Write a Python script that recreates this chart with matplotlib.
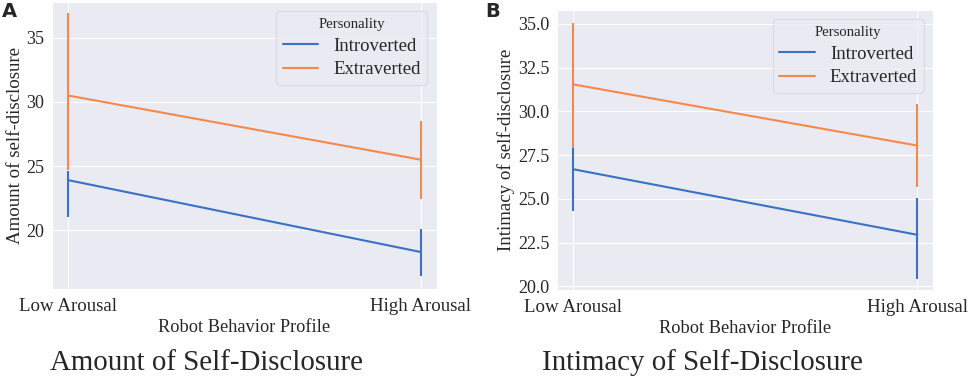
import matplotlib
matplotlib.use("Agg")
import matplotlib.pyplot as plt
import seaborn as sns

# data
profiles = ["Low Arousal", "High Arousal"]
groups = ["Introverted", "Extraverted"]

amount_mean = {"Introverted": [23.9, 18.3], "Extraverted": [30.5, 25.5]}
amount_low = {"Introverted": [21.0, 16.4], "Extraverted": [24.7, 22.4]}
amount_high = {"Introverted": [24.6, 20.1], "Extraverted": [36.9, 28.5]}

intimacy_mean = {"Introverted": [26.7, 22.95], "Extraverted": [31.55, 28.05]}
intimacy_low = {"Introverted": [24.3, 20.4], "Extraverted": [27.9, 25.7]}
intimacy_high = {"Introverted": [27.9, 25.05], "Extraverted": [35.05, 30.4]}

sns.set_style("darkgrid")
plt.rcParams["font.family"] = ["Liberation Serif", "DejaVu Serif"]

colors = {"Introverted": "#3a71c2", "Extraverted": "#f4894e"}

fig = plt.figure(figsize=(9.69, 3.84), dpi=100)
ax1 = fig.add_axes([0.0537, 0.247, 0.397, 0.748])
ax2 = fig.add_axes([0.575, 0.245, 0.388, 0.729])


def draw(ax, mean, lo, hi, ylabel, ylim, yticks, fmt):
    x = list(range(len(profiles)))
    for g in groups:
        ax.plot(x, mean[g], color=colors[g], lw=1.5, label=g)
        ax.vlines(x, lo[g], hi[g], color=colors[g], lw=1.5)
    ax.set_xlim(-0.046, 1.046)
    ax.set_ylim(*ylim)
    ax.set_xticks(x)
    ax.set_xticklabels(profiles, fontsize=13.6)
    ax.set_yticks(yticks)
    ax.set_yticklabels([fmt.format(v) for v in yticks], fontsize=13)
    ax.tick_params(axis="x", pad=3)
    ax.tick_params(axis="y", pad=2)
    ax.set_xlabel("Robot Behavior Profile", fontsize=13.2, labelpad=3)
    ax.set_ylabel(ylabel, fontsize=13.6, labelpad=2)
    leg = ax.legend(title="Personality", loc="upper right", fontsize=13.5,
                    title_fontsize=10.6, frameon=True, handlelength=1.9,
                    labelspacing=0.35, borderpad=0.35, borderaxespad=0.5)
    leg.get_frame().set_facecolor("#eaeaf2")
    leg.get_frame().set_edgecolor("#d8d8e0")


draw(ax1, amount_mean, amount_low, amount_high, "Amount of self-disclosure",
     (15.4, 37.8), [20, 25, 30, 35], "{:.0f}")
draw(ax2, intimacy_mean, intimacy_low, intimacy_high, "Intimacy of self-disclosure",
     (19.8, 35.8), [20.0, 22.5, 25.0, 27.5, 30.0, 32.5, 35.0], "{:.1f}")

fig.text(0.002, 0.995, "A", fontsize=14, fontweight="bold", family="DejaVu Sans",
         va="top", ha="left")
fig.text(0.501, 0.995, "B", fontsize=14, fontweight="bold", family="DejaVu Sans",
         va="top", ha="left")

fig.text(0.2126, 0.055, "Amount of Self-Disclosure", fontsize=20.8, ha="center", va="center")
fig.text(0.725, 0.055, "Intimacy of Self-Disclosure", fontsize=20.8, ha="center", va="center")

fig.savefig("out.png", dpi=100)
